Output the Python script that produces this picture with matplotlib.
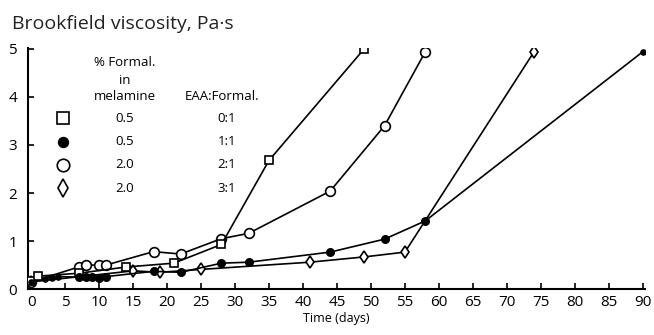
import matplotlib
matplotlib.use("Agg")
import matplotlib.pyplot as plt
import numpy as np

plt.rcParams['font.family'] = ['Open Sans', 'DejaVu Sans']

# 0.5 % formal., EAA:Formal. 0:1 (open squares)
sq_days = [0, 1, 7, 14, 21, 28, 35, 49]
sq_visc = [0.17, 0.27, 0.33, 0.46, 0.54, 0.93, 2.68, 5.0]

# 0.5 % formal., EAA:Formal. 1:1 (filled circles)
fc_days = [0, 2, 3, 4, 7, 8, 9, 10, 11, 18, 22, 28, 32, 44, 52, 58, 90]
fc_visc = [0.15, 0.22, 0.24, 0.26, 0.25, 0.26, 0.26, 0.23, 0.26, 0.37, 0.35,
           0.54, 0.56, 0.77, 1.04, 1.42, 4.94]

# 2.0 % formal., EAA:Formal. 2:1 (open circles)
oc_days = [0, 7, 8, 10, 11, 18, 22, 28, 32, 44, 52, 58]
oc_visc = [0.15, 0.46, 0.5, 0.5, 0.5, 0.78, 0.73, 1.05, 1.16, 2.04, 3.4, 4.94]

# 2.0 % formal., EAA:Formal. 3:1 (open diamonds)
di_days = [0, 15, 19, 25, 41, 49, 55, 74]
di_visc = [0.15, 0.38, 0.35, 0.41, 0.56, 0.67, 0.77, 4.94]

legend_pct = ["0.5", "0.5", "2.0", "2.0"]
legend_ratio = ["0:1", "1:1", "2:1", "3:1"]

fig = plt.figure(figsize=(6.54, 3.35), dpi=100)
ax = fig.add_axes([0.043, 0.137, 0.943, 0.72])

lw = 1.2
ax.plot(di_days, di_visc, color='black', lw=lw, marker='d', ms=6.5,
        mfc='white', mec='black', mew=1.2, zorder=3)
ax.plot(oc_days, oc_visc, color='black', lw=lw, marker='o', ms=7,
        mfc='white', mec='black', mew=1.2, zorder=3)
ax.plot(sq_days, sq_visc, color='black', lw=lw, marker='s', ms=6,
        mfc='white', mec='black', mew=1.2, zorder=4)
# filled circles: small dots at the very start and end
fc_d = np.array(fc_days)
fc_v = np.array(fc_visc)
ax.plot(fc_d, fc_v, color='black', lw=lw, zorder=3)
small = (fc_d < 5) | (fc_d > 80)
ax.scatter(fc_d[small], fc_v[small], s=14, color='black', zorder=5)
ax.scatter(fc_d[~small], fc_v[~small], s=30, color='black', zorder=5)

ax.set_xlim(-0.45, 90.3)
ax.set_ylim(0, 5.02)
ax.set_xticks(np.arange(0, 91, 5))
ax.set_yticks(np.arange(0, 6, 1))
ax.tick_params(direction='in', length=4, width=1.2, labelsize=11, pad=4)
ax.tick_params(axis='y', pad=8)
for s in ['top', 'right']:
    ax.spines[s].set_visible(False)
for s in ['left', 'bottom']:
    ax.spines[s].set_linewidth(1.5)

ax.set_xlabel("Time (days)", fontsize=9, labelpad=2)
fig.text(12 / 654, 1 - 33 / 335, "Brookfield viscosity, Pa\u00b7s", fontsize=14,
         ha='left', va='bottom', color='#222222')

# hand-drawn legend table
kw = dict(transform=fig.transFigure, fontsize=9.5, ha='center', va='center')
fig.text(125 / 654, 1 - 63 / 335, "% Formal.", **kw)
fig.text(125 / 654, 1 - 80 / 335, "in", **kw)
fig.text(125 / 654, 1 - 97 / 335, "melamine", **kw)
fig.text(222 / 654, 1 - 97 / 335, "EAA:Formal.", **kw)
markers = [dict(marker='s', ms=8, mfc='white'), dict(marker='o', ms=7, mfc='black'),
           dict(marker='o', ms=9, mfc='white'), dict(marker='d', ms=9, mfc='white')]
rows_y = [118, 142, 165, 188]
for i, (pct, ratio) in enumerate(zip(legend_pct, legend_ratio)):
    yf = 1 - rows_y[i] / 335
    fig.lines.append(plt.Line2D([63 / 654], [yf], transform=fig.transFigure,
                                mec='black', mew=1.2, ls='none', **markers[i]))
    fig.text(125 / 654, yf, pct, **kw)
    fig.text(227 / 654, yf, ratio, **kw)

fig.savefig("out.png", dpi=100)
